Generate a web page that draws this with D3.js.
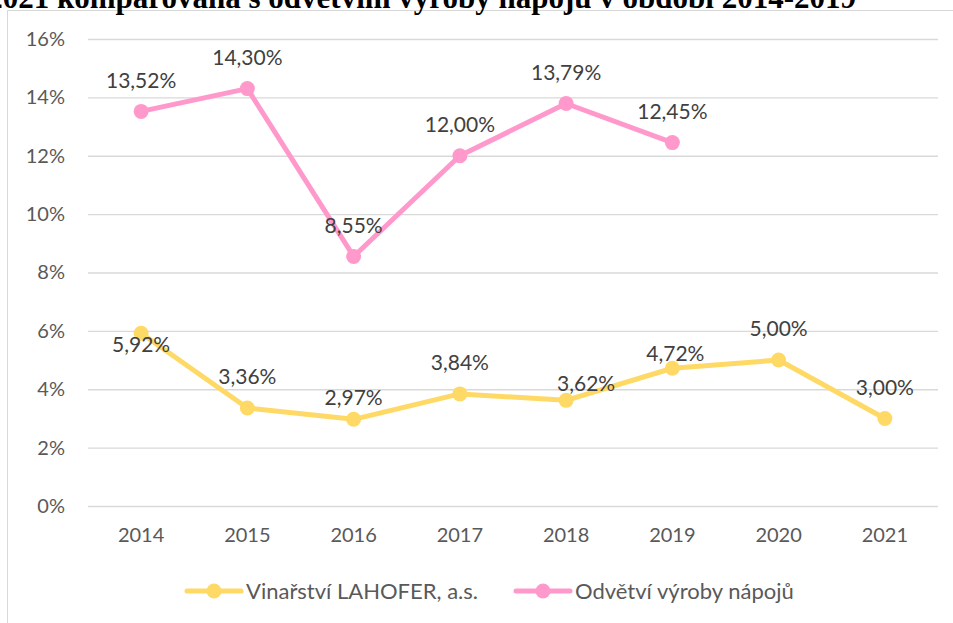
<!DOCTYPE html>
<html>
<head>
<meta charset="utf-8">
<script src="https://cdn.jsdelivr.net/npm/d3@7"></script>
<style>
  body { margin: 0; background: #fff; }
  svg { display: block; }
</style>
</head>
<body>
<div id="chart"></div>
<script>
const years = ['2014', '2015', '2016', '2017', '2018', '2019', '2020', '2021'];
const lahofer = [5.92, 3.36, 2.97, 3.84, 3.62, 4.72, 5.00, 3.00];
const odvetvi = [13.52, 14.30, 8.55, 12.00, 13.79, 12.45];
const yTicks = [0, 2, 4, 6, 8, 10, 12, 14, 16];
const seriesNames = ['Vinařství LAHOFER, a.s.', 'Odvětví výroby nápojů'];
const titleText = '2021 komparovaná s odvětvím výroby nápojů v období 2014-2019';

const width = 953, height = 623;
const margin = { t: 39, r: 15, b: 117, l: 88 };
const colors = ['#FFD966', '#FF99CC'];
const font = "Lato, 'Open Sans', sans-serif";

// hand-moved labels (dx, dy from the default spot above the point)
const labelNudge = {
  '0-0': [0, 42], '0-2': [0, 9], '0-4': [20, 14], '0-5': [3, 16]
};

const svg = d3.select('#chart').append('svg')
  .attr('width', width)
  .attr('height', height);

// chart frame
svg.append('rect')
  .attr('x', 7.5).attr('y', 10.5)
  .attr('width', 960).attr('height', 700)
  .attr('fill', 'none')
  .attr('stroke', '#d9d9d9');

const w = width - margin.l - margin.r;
const h = height - margin.t - margin.b;

const plot = svg.append('g')
  .attr('transform', `translate(${margin.l},${margin.t})`);

const x = d3.scaleBand().domain(years).range([0, w]);
const y = d3.scaleLinear().domain([0, 16]).range([h, 0]);
const cx = d => x(d) + x.bandwidth() / 2;

// gridlines + y labels
const axisY = d3.axisLeft(y).tickValues(yTicks).tickSize(-w).tickFormat(d => d + '%').tickPadding(23);
const gy = plot.append('g').attr('class', 'axis axis-y').call(axisY);
gy.select('.domain').remove();
gy.selectAll('line').attr('stroke', '#d9d9d9').attr('stroke-width', 1.3);
gy.selectAll('text').attr('fill', '#595959').style('font', `20px ${font}`);

const axisX = d3.axisBottom(x).tickSize(0).tickPadding(22);
const gx = plot.append('g').attr('class', 'axis axis-x')
  .attr('transform', `translate(0,${h})`).call(axisX);
gx.select('.domain').remove();
gx.selectAll('text').attr('fill', '#595959').style('font', `20px ${font}`);

const series = [lahofer, odvetvi];
const line = d3.line().x(d => cx(d.year)).y(d => y(d.v));

series.forEach((vals, si) => {
  const pts = vals.map((v, i) => ({ year: years[i], v: v, i: i }));
  plot.append('path')
    .datum(pts)
    .attr('d', line)
    .attr('fill', 'none')
    .attr('stroke', colors[si])
    .attr('stroke-width', 5)
    .attr('stroke-linejoin', 'round');
  plot.selectAll('.pt' + si).data(pts).enter().append('circle')
    .attr('class', 'pt' + si)
    .attr('cx', d => cx(d.year))
    .attr('cy', d => y(d.v))
    .attr('r', 7.5)
    .attr('fill', colors[si]);
  plot.selectAll('.lbl' + si).data(pts).enter().append('text')
    .attr('class', 'lbl' + si)
    .attr('x', d => cx(d.year) + (labelNudge[si + '-' + d.i] || [0, 0])[0])
    .attr('y', d => y(d.v) - 31 + (labelNudge[si + '-' + d.i] || [0, 0])[1])
    .attr('dy', '0.35em')
    .attr('text-anchor', 'middle')
    .attr('fill', '#404040')
    .style('font', `21px ${font}`)
    .text(d => d3.format('.2f')(d.v).replace('.', ',') + '%');
});

// legend
const legendX = [187, 516];
const legend = svg.append('g').attr('transform', 'translate(0,591)');
seriesNames.forEach((name, si) => {
  const g = legend.append('g').attr('transform', `translate(${legendX[si]},0)`);
  g.append('line').attr('x1', 0).attr('x2', 54)
    .attr('stroke', colors[si]).attr('stroke-width', 5).attr('stroke-linecap', 'round');
  g.append('circle').attr('cx', 27).attr('r', 7.5).attr('fill', colors[si]);
  g.append('text').attr('x', 59).attr('dy', '0.35em')
    .attr('fill', '#595959')
    .style('font', `22px ${font}`)
    .text(name);
});

// title, cut off at the top edge
svg.append('text')
  .attr('x', 856).attr('y', 8)
  .attr('text-anchor', 'end')
  .style('font', "bold 31px 'Liberation Serif', 'Times New Roman', serif")
  .attr('fill', '#000')
  .text(titleText);
</script>
</body>
</html>
